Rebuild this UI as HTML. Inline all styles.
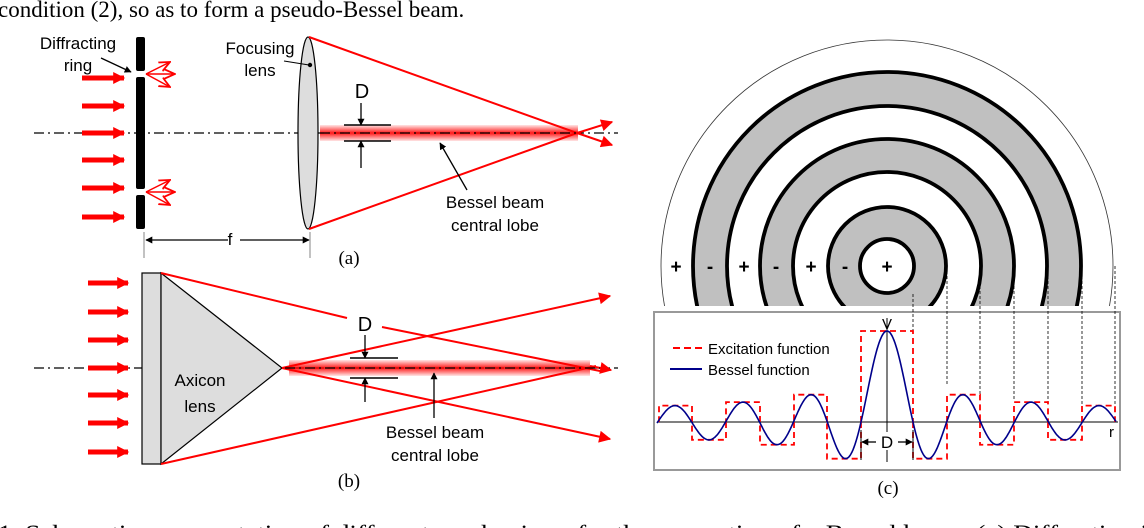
<!DOCTYPE html>
<html><head><meta charset="utf-8"><style>
html,body{margin:0;padding:0;background:#fff;width:1144px;height:528px;overflow:hidden}
svg{display:block}
.s{font-family:"Liberation Sans",sans-serif;font-size:17px}
.t{font-family:"Liberation Serif",serif}
</style></head><body>
<svg id="sv" width="1144" height="528" viewBox="0 0 1144 528" xmlns="http://www.w3.org/2000/svg">
<defs>
<marker id="ar" viewBox="0 0 10 10" refX="9" refY="5" markerWidth="7" markerHeight="7" orient="auto" markerUnits="userSpaceOnUse"><path d="M0,0L10,5L0,10z" fill="#000"/></marker>
<marker id="rr" viewBox="0 0 10 10" refX="9" refY="5" markerWidth="14" markerHeight="12" orient="auto" markerUnits="userSpaceOnUse"><path d="M0,0L10,5L0,10z" fill="#f00"/></marker>
<marker id="ro" viewBox="0 0 10 10" refX="9" refY="5" markerWidth="12" markerHeight="12" orient="auto" markerUnits="userSpaceOnUse"><path d="M0,1L9,5L0,9" fill="none" stroke="#f00" stroke-width="1.5"/></marker>
<linearGradient id="gl" x1="0" y1="0" x2="0" y2="1"><stop offset="0" stop-color="#f00" stop-opacity="0.1"/><stop offset="0.5" stop-color="#f00" stop-opacity="0.9"/><stop offset="1" stop-color="#f00" stop-opacity="0.1"/></linearGradient>
</defs>
<text x="-2" y="17" class="t" font-size="23">condition (2), so as to form a pseudo-Bessel beam.</text>
<text x="-2" y="541" class="t" font-size="23" textLength="1150" lengthAdjust="spacingAndGlyphs">1.   Schematic representation of different mechanisms for the generation of a Bessel beam. (a) Diffraction i</text>

<!-- panel a -->
<line x1="34" y1="133" x2="618" y2="133" stroke="#000" stroke-width="1.2" stroke-dasharray="10,4,2,4"/>
<g fill="#000"><rect x="136" y="37" width="9" height="34" rx="2"/><rect x="136" y="77" width="9" height="112" rx="2"/><rect x="136" y="195" width="9" height="34" rx="2"/></g>
<g stroke="#f00" stroke-width="5" marker-end="url(#rr)">
<line x1="82" y1="78" x2="124" y2="78"/><line x1="82" y1="106" x2="124" y2="106"/><line x1="82" y1="133" x2="124" y2="133"/><line x1="82" y1="160" x2="124" y2="160"/><line x1="82" y1="188" x2="124" y2="188"/><line x1="82" y1="217" x2="124" y2="217"/></g>
<g stroke="#f00" stroke-width="1.5" marker-end="url(#ro)">
<line x1="146" y1="74" x2="170" y2="62"/><line x1="146" y1="74" x2="175" y2="74"/><line x1="146" y1="74" x2="170" y2="87"/>
<line x1="146" y1="192" x2="170" y2="180"/><line x1="146" y1="192" x2="175" y2="192"/><line x1="146" y1="192" x2="170" y2="205"/></g>
<rect x="320" y="125" width="258" height="16" fill="url(#gl)"/>
<ellipse cx="308" cy="133" rx="10" ry="96" fill="#ddd" stroke="#000" stroke-width="1.2"/>
<g stroke="#f00" stroke-width="2"><line x1="309" y1="37" x2="577" y2="133"/><line x1="309" y1="229" x2="577" y2="133"/></g>
<g stroke="#f00" stroke-width="2" marker-end="url(#rr)"><line x1="577" y1="133" x2="612" y2="122"/><line x1="577" y1="133" x2="612" y2="145"/></g>
<line x1="320" y1="133" x2="578" y2="133" stroke="#000" stroke-width="1.2" stroke-dasharray="10,4,2,4"/>
<g stroke="#000" stroke-width="1.5"><line x1="344" y1="125" x2="391" y2="125"/><line x1="344" y1="141" x2="391" y2="141"/></g>
<g stroke="#000" stroke-width="1.3" marker-end="url(#ar)"><line x1="361" y1="103" x2="361" y2="125"/><line x1="361" y1="168" x2="361" y2="141"/>
<line x1="467" y1="190" x2="440" y2="143"/><line x1="101" y1="58" x2="131" y2="72"/><line x1="228" y1="240" x2="146" y2="240"/><line x1="240" y1="240" x2="309" y2="240"/></g>
<g stroke="#000" stroke-width="0.8" opacity="0.6"><line x1="144" y1="232" x2="144" y2="258"/><line x1="310" y1="232" x2="310" y2="258"/></g>
<line x1="284" y1="61" x2="309" y2="65" stroke="#000" stroke-width="1"/><circle cx="310" cy="65" r="2.2"/>
<g class="s" text-anchor="middle">
<text x="78" y="49">Diffracting</text><text x="78" y="71">ring</text>
<text x="260" y="54">Focusing</text><text x="260" y="76">lens</text>
<text x="362" y="98" font-size="20">D</text>
<text x="495" y="208">Bessel beam</text><text x="495" y="231">central lobe</text>
<text x="230" y="245">f</text>
</g>
<text x="349" y="264" class="t" font-size="19" text-anchor="middle">(a)</text>

<!-- panel b -->
<line x1="34" y1="368" x2="618" y2="368" stroke="#000" stroke-width="1.2" stroke-dasharray="10,4,2,4"/>
<g stroke="#f00" stroke-width="5" marker-end="url(#rr)">
<line x1="88" y1="283" x2="128" y2="283"/><line x1="88" y1="312" x2="128" y2="312"/><line x1="88" y1="340" x2="128" y2="340"/><line x1="88" y1="368" x2="128" y2="368"/><line x1="88" y1="395" x2="128" y2="395"/><line x1="88" y1="423" x2="128" y2="423"/><line x1="88" y1="452" x2="128" y2="452"/></g>
<rect x="289" y="360" width="301" height="16" fill="url(#gl)"/>
<rect x="142" y="273" width="19" height="191" fill="#ddd" stroke="#000" stroke-width="1.2"/>
<polygon points="161,273 282,368 161,464" fill="#ddd" stroke="#000" stroke-width="1.2"/>
<g stroke="#f00" stroke-width="2" fill="none">
<polyline points="161,273 347,318"/><polyline points="382,327 600,371"/>
<line x1="161" y1="464" x2="596" y2="366"/></g>
<g stroke="#f00" stroke-width="2" marker-end="url(#rr)"><line x1="282" y1="368" x2="610" y2="296"/><line x1="282" y1="368" x2="610" y2="439"/><line x1="590" y1="366" x2="611" y2="370"/></g>
<line x1="285" y1="368" x2="600" y2="368" stroke="#000" stroke-width="1.2" stroke-dasharray="10,4,2,4"/>
<g stroke="#000" stroke-width="1.5"><line x1="350" y1="358" x2="398" y2="358"/><line x1="350" y1="378" x2="398" y2="378"/></g>
<g stroke="#000" stroke-width="1.3" marker-end="url(#ar)"><line x1="365" y1="335" x2="365" y2="358"/><line x1="365" y1="402" x2="365" y2="378"/><line x1="434" y1="418" x2="434" y2="373"/></g>
<g class="s" text-anchor="middle">
<text x="365" y="331" font-size="20">D</text>
<text x="200" y="386">Axicon</text><text x="200" y="412">lens</text>
<text x="435" y="438">Bessel beam</text><text x="435" y="461">central lobe</text>
</g>
<text x="349" y="487" class="t" font-size="19" text-anchor="middle">(b)</text>

<!-- panel c -->
<g id="rings"></g>
<rect x="654" y="312" width="466" height="158" fill="#fff" stroke="#999" stroke-width="2"/>
<g id="plot"></g>
<text x="888" y="494" class="t" font-size="19" text-anchor="middle">(c)</text>
</svg>
<script>
var NS="http://www.w3.org/2000/svg",sv=document.getElementById('sv');
function el(p,t,a,txt){var e=document.createElementNS(NS,t);for(var k in a)e.setAttribute(k,a[k]);if(txt)e.textContent=txt;p.appendChild(e);return e;}
var cx=887,cy=266;
var R=el(document.getElementById('rings'),'g',{});
var cp=el(sv.querySelector('defs'),'clipPath',{id:'cl'});el(cp,'rect',{x:0,y:0,width:1144,height:306});
R.setAttribute('clip-path','url(#cl)');
el(R,'circle',{cx:cx,cy:cy,r:226,fill:'#fff',stroke:'#333','stroke-width':0.8});
var rad=[194,160,127,94,59,27];
for(var i=0;i<rad.length;i++){el(R,'circle',{cx:cx,cy:cy,r:rad[i],fill:(i%2==0?'#c0c0c0':'#fff'),stroke:'#000','stroke-width':3.8});}
var lab=[[676,'+'],[710,'-'],[744,'+'],[776,'-'],[811,'+'],[845,'-'],[887,'+']];
lab.forEach(function(l){el(R,'text',{x:l[0],y:273,'text-anchor':'middle','font-family':'Liberation Sans,sans-serif','font-size':19,'font-weight':'bold'},l[1]);});
var P=document.getElementById('plot');
function J0(x){var s=0,n=200;for(var k=0;k<n;k++){var t=(k+0.5)*Math.PI/n;s+=Math.cos(x*Math.sin(t));}return s/n;}
var sc=2.405/26,ay=422,amp=91,ox=887;
var zs=[26,60,93,127,161,195,228];
var ext=[1,-0.403,0.300,-0.250,0.218,-0.196,0.180,-0.165];
zs.forEach(function(z,i){el(P,'line',{x1:ox+z,y1:cy+(i==0?28:0),x2:ox+z,y2:ay-amp*Math.abs(ext[i]),stroke:'#000','stroke-width':0.8,'stroke-dasharray':'3,2'});});
el(P,'line',{x1:658,y1:ay,x2:1118,y2:ay,stroke:'#000','stroke-width':1});
el(P,'line',{x1:ox,y1:318,x2:ox,y2:462,stroke:'#000','stroke-width':1});
var zz=[0].concat(zs);var d='';
for(var side=-1;side<=1;side+=2){
 for(var i=0;i<zz.length-1;i++){
  var a=zz[i],b=zz[i+1],h=amp*ext[i];if(i==0&&side==1)continue;
  var x1=ox+side*a,x2=ox+side*b;if(i==0){x1=ox-26;x2=ox+26;}
  var y=ay-h;
  d+='M'+x1+','+ay+'L'+x1+','+y+'L'+x2+','+y+'L'+x2+','+ay;
 }}
el(P,'path',{d:d,fill:'none',stroke:'#f00','stroke-width':1.8,'stroke-dasharray':'6,4'});
var pts=[];for(var x=-230;x<=229;x+=1){pts.push((ox+x)+','+(ay-amp*J0(Math.abs(x)*sc)).toFixed(1));}
el(P,'polyline',{points:pts.join(' '),fill:'none',stroke:'#00008b','stroke-width':1.6});
el(P,'line',{x1:673,y1:348,x2:702,y2:348,stroke:'#f00','stroke-width':2,'stroke-dasharray':'7,4'});
el(P,'line',{x1:670,y1:369,x2:702,y2:369,stroke:'#00008b','stroke-width':2});
var f={'font-family':'Liberation Sans,sans-serif','font-size':15};
function T(x,y,s,an,fs){var o={x:x,y:y};for(var k in f)o[k]=f[k];if(fs)o['font-size']=fs;if(an)o['text-anchor']=an;el(P,'text',o,s);}
T(708,354,'Excitation function');T(708,375,'Bessel function');
T(887,329,'V','middle');T(1109,437,'r');
el(P,'rect',{x:876,y:432,width:22,height:18,fill:'#fff'});
T(887,448,'D','middle',17);
el(P,'line',{x1:876,y1:442,x2:862,y2:442,stroke:'#000','stroke-width':1.3,'marker-end':'url(#ar)'});
el(P,'line',{x1:898,y1:442,x2:912,y2:442,stroke:'#000','stroke-width':1.3,'marker-end':'url(#ar)'});
el(P,'line',{x1:861,y1:430,x2:861,y2:460,stroke:'#000','stroke-width':1});
el(P,'line',{x1:913,y1:430,x2:913,y2:460,stroke:'#000','stroke-width':1});
</script>
</body></html>
